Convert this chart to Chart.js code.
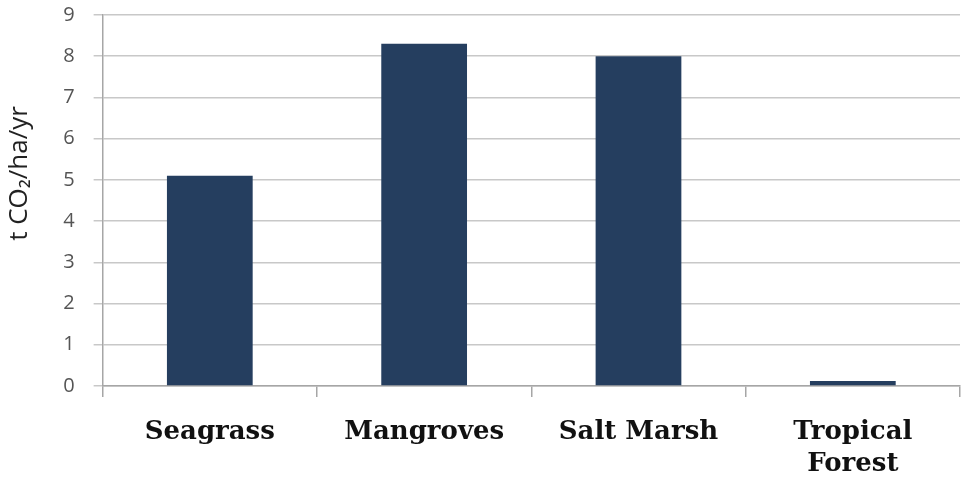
<!DOCTYPE html>
<html>
<head>
<meta charset="utf-8">
<script src="https://cdn.jsdelivr.net/npm/chart.js@4"></script>
<style>
  html, body { margin: 0; padding: 0; background: #fff; }
  #wrap { width: 961px; height: 487px; }
</style>
</head>
<body>
<div id="wrap"><canvas id="chart" width="961" height="487"></canvas></div>
<script>
const categories = ['Seagrass', 'Mangroves', 'Salt Marsh', ['Tropical', 'Forest']];
const values = [5.1, 8.3, 8.0, 0.12];
const yTicks = [0, 1, 2, 3, 4, 5, 6, 7, 8, 9];
const yTitle = 't CO\u2082/ha/yr';

const ctx = document.getElementById('chart').getContext('2d');
new Chart(ctx, {
    type: 'bar',
    data: {
        labels: categories,
        datasets: [{
            label: yTitle,
            data: values,
            backgroundColor: '#253e5f',
            borderWidth: 0,
            categoryPercentage: 0.4,
            barPercentage: 1.0
        }]
    },
    options: {
        responsive: false,
        animation: false,
        layout: { padding: { top: 0, right: 1, left: 4, bottom: 0 } },
        plugins: {
            legend: { display: false },
            tooltip: { enabled: false }
        },
        scales: {
            x: {
                afterFit: s => { s.height = 101; },
                grid: {
                    display: true,
                    drawOnChartArea: false,
                    drawTicks: true,
                    tickLength: 11,
                    color: '#a6a6a6',
                    lineWidth: 1.5
                },
                border: { display: true, color: '#a6a6a6', width: 1.5 },
                ticks: {
                    color: '#111',
                    font: { family: 'DejaVu Serif', size: 26, weight: 'bold', lineHeight: 1.2 },
                    padding: 20,
                    maxRotation: 0
                }
            },
            y: {
                min: 0,
                max: 9,
                afterFit: s => { s.paddingTop = 15; },
                afterBuildTicks: axis => { axis.ticks = yTicks.map(v => ({ value: v })); },
                grid: {
                    color: '#c8c8c8',
                    lineWidth: 1.5,
                    tickLength: 9
                },
                border: { display: true, color: '#a6a6a6', width: 1.5 },
                ticks: {
                    color: '#555',
                    font: { family: 'Open Sans', size: 20 },
                    padding: 19
                },
                title: {
                    display: true,
                    // leading spaces push the title up, as in the original
                    text: '\u00a0\u00a0\u00a0\u00a0\u00a0\u00a0\u00a0\u00a0' + yTitle,
                    color: '#222',
                    font: { family: 'Open Sans', size: 26 },
                    padding: { top: 0, bottom: 9 }
                }
            }
        }
    }
});
</script>
</body>
</html>
